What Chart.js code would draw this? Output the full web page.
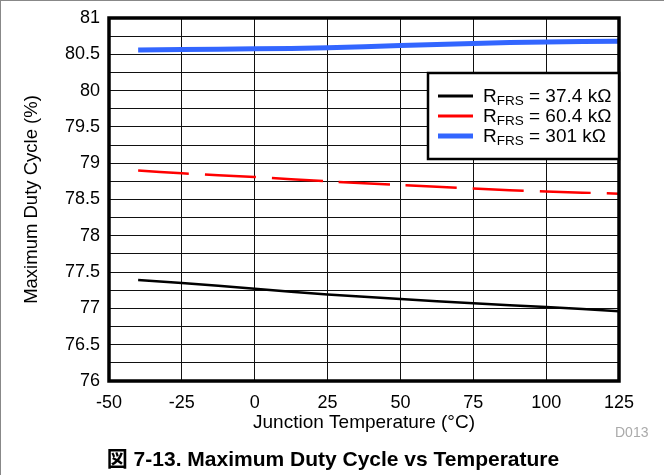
<!DOCTYPE html>
<html lang="en">
<head>
  <meta charset="UTF-8" />
  <title>Maximum Duty Cycle vs Temperature</title>
  <script src="https://cdn.jsdelivr.net/npm/chart.js"></script>
  <style>
    html, body {
      margin: 0;
      padding: 0;
      background: #fff;
    }
    .frame {
      position: relative;
      width: 664px;
      height: 475px;
      box-sizing: border-box;
      border-top: 1px solid #888;
      border-left: 1px solid #888;
      overflow: hidden;
    }
    #chartWrap {
      position: absolute;
      left: 0;
      top: 0;
      width: 664px;
      height: 475px;
    }
    .code {
      position: absolute;
      left: 614px;
      top: 423px;
      font: 14px 'Liberation Sans', Arial, sans-serif;
      color: #aaa;
    }
    .caption {
      position: absolute;
      left: 0;
      width: 664px;
      top: 441px;
      text-align: center;
      font: bold 21px 'Liberation Sans', 'Noto Sans CJK JP', Arial, sans-serif;
      color: #000;
    }
  </style>
</head>
<body>
  <div class="frame">
    <div id="chartWrap"><canvas id="dutyChart"></canvas></div>
    <div class="code">D013</div>
    <div class="caption">図 7-13. Maximum Duty Cycle vs Temperature</div>
  </div>

  <script>
    // temperatures (°C) and duty cycle (%)
    const temps = [-40, -25, 0, 25, 50, 75, 100, 125];
    const duty374 = [77.39, 77.35, 77.27, 77.19, 77.13, 77.07, 77.02, 76.96];
    const duty604 = [78.90, 78.86, 78.81, 78.75, 78.70, 78.65, 78.61, 78.58];
    const duty301 = [80.56, 80.565, 80.575, 80.59, 80.62, 80.65, 80.67, 80.68];

    const seriesNames = ['37.4 k\u03A9', '60.4 k\u03A9', '301 k\u03A9'];
    const seriesColors = ['#000000', '#ff0000', '#3366ff'];
    const seriesWidths = [2.5, 2.5, 5];

    const font = "'Liberation Sans', Arial, sans-serif";

    function toPoints(ys) {
      return temps.map((t, i) => ({ x: t, y: ys[i] }));
    }

    // plot frame + custom legend with subscript text
    const framePlugin = {
      id: 'framePlugin',
      afterDatasetsDraw(chart) {
        const { ctx, chartArea: a } = chart;
        ctx.save();
        ctx.strokeStyle = '#000';
        ctx.lineWidth = 3.5;
        ctx.strokeRect(a.left, a.top, a.right - a.left, a.bottom - a.top);
        ctx.restore();
      },
      afterDraw(chart) {
        const { ctx, chartArea: a } = chart;
        const boxW = 191, boxH = 86;
        const bx = a.right - boxW, by = 72;
        ctx.save();
        ctx.fillStyle = '#fff';
        ctx.fillRect(bx, by, boxW, boxH);
        ctx.strokeStyle = '#000';
        ctx.lineWidth = 2.5;
        ctx.strokeRect(bx, by, boxW, boxH);
        seriesNames.forEach((name, i) => {
          const y = 95 + i * 20;
          ctx.strokeStyle = seriesColors[i];
          ctx.lineWidth = i === 2 ? 5 : 3;
          ctx.beginPath();
          ctx.moveTo(bx + 10, y);
          ctx.lineTo(bx + 45, y);
          ctx.stroke();
          ctx.fillStyle = '#000';
          ctx.textBaseline = 'alphabetic';
          ctx.font = '19px ' + font;
          let x = bx + 55;
          ctx.fillText('R', x, y + 6);
          x += ctx.measureText('R').width;
          ctx.font = '13.5px ' + font;
          ctx.fillText('FRS', x, y + 8.5);
          x += ctx.measureText('FRS').width;
          ctx.font = '19px ' + font;
          ctx.fillText(' = ' + name, x, y + 6);
        });
        ctx.restore();
      }
    };

    new Chart(document.getElementById('dutyChart'), {
      type: 'line',
      data: {
        datasets: [
          {
            label: 'RFRS = ' + seriesNames[0],
            data: toPoints(duty374),
            borderColor: seriesColors[0],
            borderWidth: seriesWidths[0]
          },
          {
            label: 'RFRS = ' + seriesNames[1],
            data: toPoints(duty604),
            borderColor: seriesColors[1],
            borderWidth: seriesWidths[1],
            borderDash: [51, 16]
          },
          {
            label: 'RFRS = ' + seriesNames[2],
            data: toPoints(duty301),
            borderColor: seriesColors[2],
            borderWidth: seriesWidths[2]
          }
        ]
      },
      options: {
        responsive: true,
        maintainAspectRatio: false,
        animation: false,
        elements: {
          point: { radius: 0 },
          line: { tension: 0.3 }
        },
        layout: {
          padding: { top: 17, right: 46, left: 20, bottom: 35 }
        },
        plugins: {
          legend: { display: false },
          tooltip: { enabled: false }
        },
        scales: {
          x: {
            type: 'linear',
            min: -50,
            max: 125,
            border: { display: false },
            grid: { color: '#111', lineWidth: 1, drawTicks: false },
            ticks: {
              stepSize: 25,
              color: '#000',
              padding: 11,
              maxRotation: 0,
              font: { family: font, size: 18 }
            },
            title: {
              display: true,
              text: 'Junction Temperature (\u00B0C)',
              color: '#000',
              padding: { top: 0, bottom: 7 },
              font: { family: font, size: 19 }
            },
            afterFit(scale) {
              scale.height = 60;
              scale.paddingLeft = 0;
              scale.paddingRight = 0;
            }
          },
          y: {
            min: 76,
            max: 81,
            border: { display: false },
            grid: { color: '#111', lineWidth: 1, drawTicks: false },
            ticks: {
              stepSize: 0.25,
              autoSkip: false,
              color: '#000',
              padding: 9,
              font: { family: font, size: 18 },
              callback: v => (v % 0.5 === 0 ? v : '')
            },
            title: {
              display: true,
              text: 'Maximum Duty Cycle (%)',
              color: '#000',
              padding: 0,
              font: { family: font, size: 18.5 }
            },
            afterFit(scale) {
              scale.width = 88;
              scale.paddingTop = 0;
              scale.paddingBottom = 0;
            }
          }
        }
      },
      plugins: [framePlugin]
    });
  </script>
</body>
</html>
